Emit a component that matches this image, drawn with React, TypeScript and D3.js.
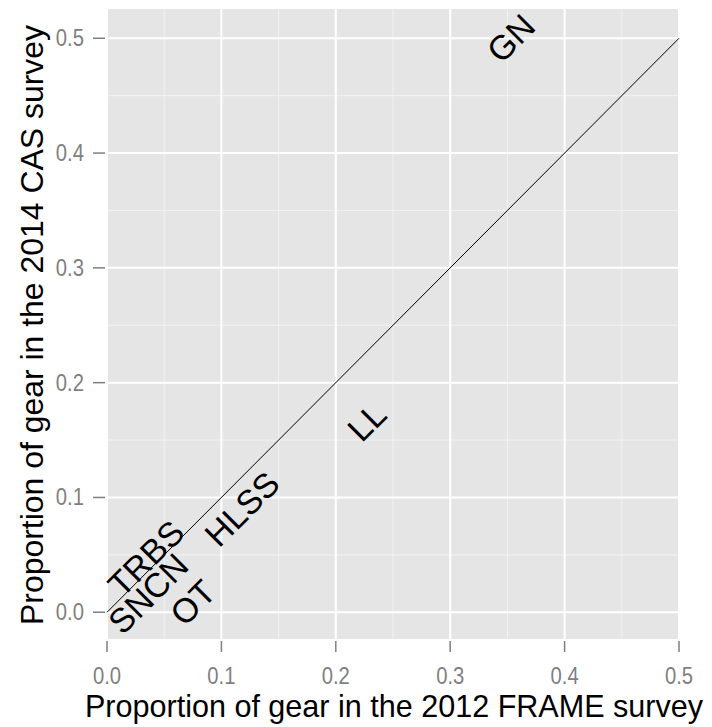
import React from "react";
import * as d3 from "d3";

const gears = ["GN", "LL", "HLSS", "OT", "SNCN", "TRBS"];
const frame2012 = [0.353, 0.227, 0.118, 0.075, 0.036, 0.034];
const cas2014 = [0.5, 0.166, 0.09, 0.0085, 0.0164, 0.047];
const majorTicks = [0, 0.1, 0.2, 0.3, 0.4, 0.5];
const minorTicks = [0.05, 0.15, 0.25, 0.35, 0.45];
const xTitle = "Proportion of gear in the 2012 FRAME survey";
const yTitle = "Proportion of gear in the 2014 CAS survey";

const W = 712, H = 727;
const panel = { left: 107, right: 679, top: 9, bottom: 639 };

export default function App() {
  const x = d3.scaleLinear().domain([0, 0.5]).range([panel.left, panel.right]);
  const y = d3.scaleLinear().domain([-0.0233, 0.5255]).range([panel.bottom, panel.top]);
  const fmt = d3.format(".1f");
  const tickCol = "#7f7f7f";
  const fam = "'Liberation Sans', Arial, sans-serif";
  const diag = d3.line<[number, number]>().x(d => x(d[0])).y(d => y(d[1]));
  return (
    <svg width={W} height={H} style={{ position: "absolute", left: 0, top: 0, background: "#fff" }} fontFamily={fam}>
      <rect x={panel.left} y={panel.top} width={panel.right - panel.left} height={panel.bottom - panel.top} fill="#e5e5e5" />
      {minorTicks.map(t => (
        <line key={"mx" + t} x1={x(t)} x2={x(t)} y1={panel.top} y2={panel.bottom} stroke="#f2f2f2" strokeWidth={1} />
      ))}
      {minorTicks.map(t => (
        <line key={"my" + t} y1={y(t)} y2={y(t)} x1={panel.left} x2={panel.right} stroke="#f2f2f2" strokeWidth={1} />
      ))}
      {majorTicks.map(t => (
        <line key={"gx" + t} x1={x(t)} x2={x(t)} y1={panel.top} y2={panel.bottom} stroke="#fff" strokeWidth={2} />
      ))}
      {majorTicks.map(t => (
        <line key={"gy" + t} y1={y(t)} y2={y(t)} x1={panel.left} x2={panel.right} stroke="#fff" strokeWidth={2} />
      ))}
      <path d={diag([[0, 0], [0.5, 0.5]]) || ""} stroke="#000" strokeWidth={1} fill="none" />
      {gears.map((g, i) => (
        <text key={g} transform={`translate(${x(frame2012[i])},${y(cas2014[i])}) rotate(-45)`}
          textAnchor="middle" dominantBaseline="central" fontSize={34} fill="#000">{g}</text>
      ))}
      {majorTicks.map(t => (
        <g key={"tx" + t}>
          <line x1={x(t)} x2={x(t)} y1={panel.bottom + 2} y2={panel.bottom + 13} stroke={tickCol} strokeWidth={1.5} />
          <text x={x(t)} y={684} textAnchor="middle" fontSize={23} fill={tickCol}
            transform={`translate(${x(t)},0) scale(0.88,1) translate(${-x(t)},0)`}>{fmt(t)}</text>
        </g>
      ))}
      {majorTicks.map(t => (
        <g key={"ty" + t}>
          <line x1={93} x2={panel.left - 2} y1={y(t)} y2={y(t)} stroke={tickCol} strokeWidth={1.5} />
          <text x={84} y={y(t)} textAnchor="end" dominantBaseline="central" fontSize={23} fill={tickCol}
            transform={`translate(84,0) scale(0.88,1) translate(-84,0)`}>{fmt(t)}</text>
        </g>
      ))}
      <text x={(panel.left + panel.right) / 2 + 1} y={717} textAnchor="middle" fontSize={30.5} fill="#000"
        textLength={618} lengthAdjust="spacingAndGlyphs">{xTitle}</text>
      <text transform={`translate(43,${325}) rotate(-90)`} textAnchor="middle" fontSize={31} fill="#000"
        textLength={600} lengthAdjust="spacingAndGlyphs">{yTitle}</text>
    </svg>
  );
}
